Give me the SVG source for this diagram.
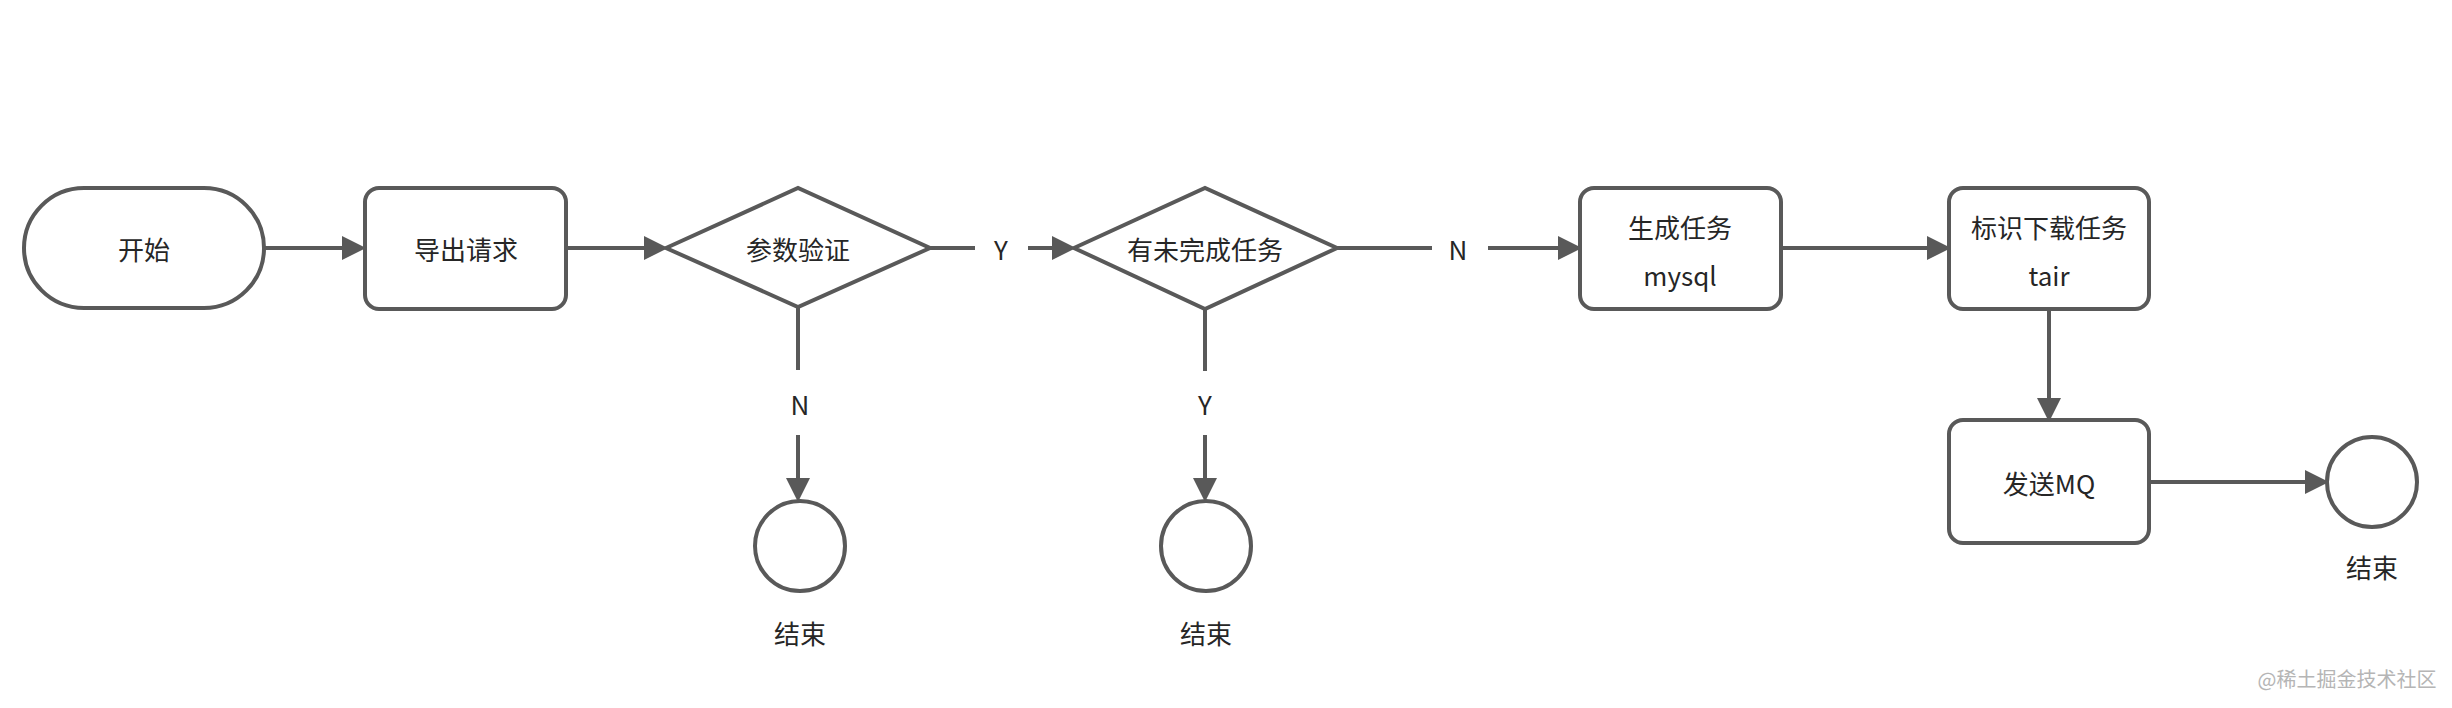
<svg xmlns="http://www.w3.org/2000/svg" width="2452" height="708" viewBox="0 0 2452 708">
<style>
.s{fill:#fff;stroke:#595959;stroke-width:4}
.c{fill:none;stroke:#595959;stroke-width:4}
text{font-family:"Noto Sans CJK SC","Liberation Sans",sans-serif;font-size:26px;fill:#262626;text-anchor:middle;dominant-baseline:central}
.w{font-size:20px;fill:#b5b5b5}
</style>
<defs><marker id="a" markerWidth="6" markerHeight="6" refX="5" refY="3" orient="auto" markerUnits="strokeWidth"><path d="M0,0L6,3L0,6z" fill="#595959"/></marker></defs>
<rect width="2452" height="708" fill="#fff"/>
<g id="connectors">
<path class="c" d="M264,248H362" marker-end="url(#a)"/>
<path class="c" d="M566,248H664" marker-end="url(#a)"/>
<path class="c" d="M930,248H975M1028,248H1072" marker-end="url(#a)"/>
<text x="1001" y="248">Y</text>
<path class="c" d="M798,307V370M798,435V498" marker-end="url(#a)"/>
<text x="800" y="403">N</text>
<path class="c" d="M1337,248H1432M1488,248H1578" marker-end="url(#a)"/>
<text x="1458" y="248">N</text>
<path class="c" d="M1205,309V371M1205,435V498" marker-end="url(#a)"/>
<text x="1205" y="403">Y</text>
<path class="c" d="M1781,248H1947" marker-end="url(#a)"/>
<path class="c" d="M2049,309V418" marker-end="url(#a)"/>
<path class="c" d="M2149,482H2325" marker-end="url(#a)"/>
</g>
<g id="start"><rect class="s" x="24" y="188" width="240" height="120" rx="60"/><text x="144" y="248">开始</text></g>
<g id="export"><rect class="s" x="365" y="188" width="201" height="121" rx="14"/><text x="466" y="248">导出请求</text></g>
<g id="validate"><polygon class="s" points="666,248 798,188 930,248 798,307"/><text x="798" y="248">参数验证</text></g>
<g id="end1"><circle class="s" cx="800" cy="546" r="45"/><text x="800" y="632">结束</text></g>
<g id="unfinished"><polygon class="s" points="1074,248 1205,188 1337,248 1205,309"/><text x="1205" y="248">有未完成任务</text></g>
<g id="end2"><circle class="s" cx="1206" cy="546" r="45"/><text x="1206" y="632">结束</text></g>
<g id="gen"><rect class="s" x="1580" y="188" width="201" height="121" rx="14"/><text x="1680" y="226">生成任务</text><text x="1680" y="274">mysql</text></g>
<g id="mark"><rect class="s" x="1949" y="188" width="200" height="121" rx="14"/><text x="2049" y="226">标识下载任务</text><text x="2049" y="274">tair</text></g>
<g id="mq"><rect class="s" x="1949" y="420" width="200" height="123" rx="14"/><text x="2049" y="482">发送MQ</text></g>
<g id="end3"><circle class="s" cx="2372" cy="482" r="45"/><text x="2372" y="566">结束</text></g>
<text class="w" x="2347" y="678">@稀土掘金技术社区</text>
</svg>
